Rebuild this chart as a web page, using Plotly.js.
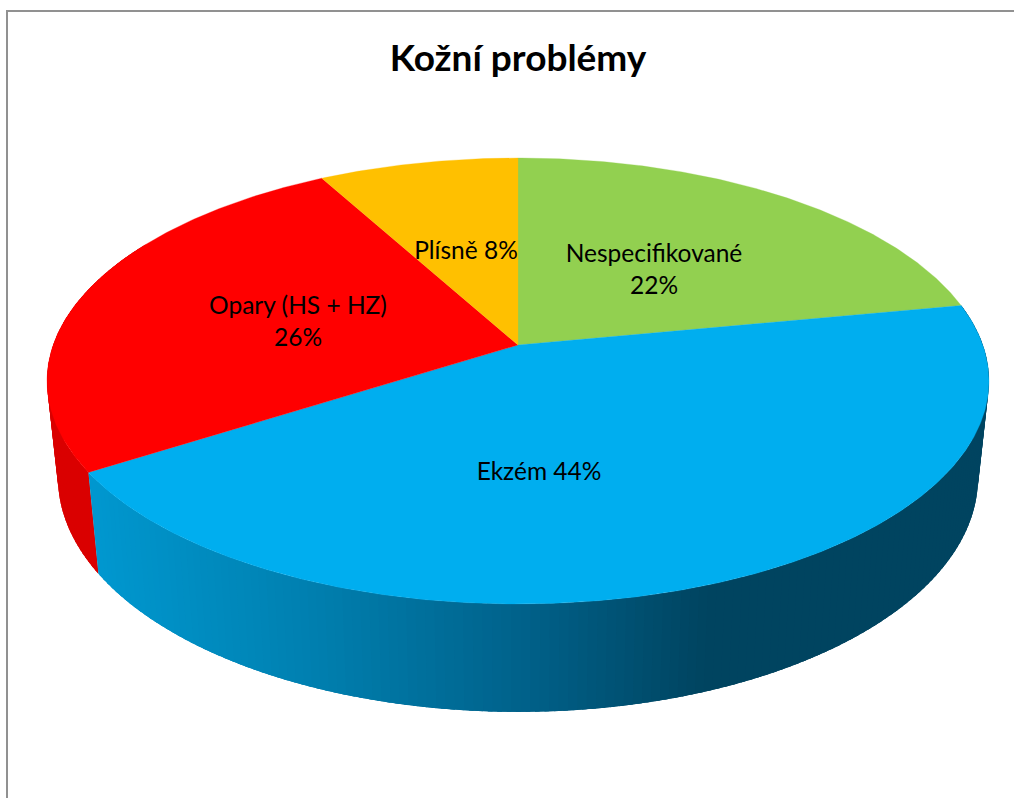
<!DOCTYPE html>
<html><head><meta charset="utf-8">
<script src="https://cdn.plot.ly/plotly-3.0.1.min.js"></script>
<style>html,body{margin:0;padding:0;background:#fff;overflow:hidden}</style></head>
<body><div id="chart" style="width:1014px;height:798px"></div>
<script>
// Data
const categories = ['Nespecifikované', 'Ekzém', 'Opary (HS + HZ)', 'Plísně'];
const values = [22, 44, 26, 8];
const topColors = ['#92D050', '#00AEEF', '#FF0000', '#FFC000'];
const chartTitle = 'Kožní problémy';

// Presentation
const labelSeparators = ['<br>', ' ', '<br>', ' '];
const labelCentersX = [654, 539, 298, 466];
const labelCentersY = [272, 474, 324, 253];
const topRim = {cx: 518, cy: 345, a: 464.8, b: 217.2, k: 0.1614};
const lowRim = {cx: 518, cy: 440, a: 454, b: 228, k: 0.1614};
const blueStops = [[90, [0, 152, 208]], [300, [0, 128, 176]], [510, [0, 97, 138]], [690, [0, 68, 96]], [1000, [0, 68, 96]]];
const redWall = 'rgb(218,0,0)';

function project(rim, deg) {
  const t = deg * Math.PI / 180, s = Math.sin(t), c = Math.cos(t), d = 1 + rim.k * c;
  return [rim.cx + rim.a * s / d, rim.cy - rim.b * c / d];
}
function blueAt(x) {
  for (let i = 1; i < blueStops.length; i++) {
    if (x <= blueStops[i][0]) {
      const [x0, c0] = blueStops[i - 1], [x1, c1] = blueStops[i];
      const f = Math.max(0, (x - x0) / (x1 - x0));
      return 'rgb(' + c0.map((v, j) => Math.round(v + (c1[j] - v) * f)).join(',') + ')';
    }
  }
  return 'rgb(0,68,96)';
}

const total = values.reduce((a, b) => a + b, 0);
const traces = [];
const STEP = 1, OVERLAP = 1.5;

let acc = 0;
const spans = values.map(v => { const s = [acc, acc + v / total * 360]; acc = s[1]; return s; });

function wallPolygon(a, b, col) {
  const p = [project(topRim, a), project(topRim, (a + b) / 2), project(topRim, b),
             project(lowRim, b), project(lowRim, (a + b) / 2), project(lowRim, a)];
  p.push(p[0]);
  traces.push({type: 'scatter', mode: 'lines', fill: 'toself', fillcolor: col,
    line: {width: 0, color: col}, hoverinfo: 'skip', showlegend: false,
    x: p.map(q => q[0]), y: p.map(q => q[1])});
}
function wallBands(from, to, colorOf) {
  for (let a = from; a < to; a += STEP) {
    const start = Math.max(from, a - OVERLAP);
    const end = Math.min(a + STEP, to);
    const mx = (project(lowRim, a)[0] + project(lowRim, end)[0]) / 2;
    wallPolygon(start, end, colorOf(mx));
  }
}
wallBands(spans[2][0], Math.min(spans[2][1], 300), () => redWall);
wallBands(spans[1][0], spans[1][1], blueAt);

// top faces
spans.forEach((sp, i) => {
  const xs = [topRim.cx], ys = [topRim.cy];
  const n = Math.ceil((sp[1] - sp[0]) / 0.5);
  for (let j = 0; j <= n; j++) {
    const q = project(topRim, sp[0] + (sp[1] - sp[0]) * j / n);
    xs.push(q[0]); ys.push(q[1]);
  }
  xs.push(topRim.cx); ys.push(topRim.cy);
  traces.push({type: 'scatter', mode: 'lines', name: categories[i], fill: 'toself',
    fillcolor: topColors[i], line: {color: topColors[i], width: 0.3}, showlegend: false,
    hoverinfo: 'name', x: xs, y: ys});
});

// data labels
traces.push({type: 'scatter', mode: 'text', showlegend: false, hoverinfo: 'skip',
  x: labelCentersX, y: labelCentersY,
  text: categories.map((c, i) => c + labelSeparators[i] + values[i] + '%'),
  textposition: 'middle center',
  textfont: {family: 'Lato, "Open Sans", sans-serif', size: 24.5, color: '#000'}});

const layout = {
  width: 1014, height: 798, margin: {l: 0, r: 0, t: 0, b: 0, pad: 0},
  paper_bgcolor: '#fff', plot_bgcolor: '#fff', showlegend: false,
  title: {text: '<b>' + chartTitle + '</b>', x: 518 / 1014, xanchor: 'center',
    y: 1 - 58 / 798, yanchor: 'middle',
    font: {family: 'Lato, "Open Sans", sans-serif', size: 37, color: '#000'}},
  xaxis: {range: [0, 1014], visible: false, fixedrange: true},
  yaxis: {range: [798, 0], visible: false, fixedrange: true},
  shapes: [
    {type: 'line', xref: 'x', yref: 'y', x0: 7, x1: 7, y0: 10, y1: 798, line: {color: '#919191', width: 2}},
    {type: 'line', xref: 'x', yref: 'y', x0: 6, x1: 1014, y0: 11, y1: 11, line: {color: '#919191', width: 2}}
  ]
};
Plotly.newPlot('chart', traces, layout, {displayModeBar: false, staticPlot: true});
</script></body></html>
